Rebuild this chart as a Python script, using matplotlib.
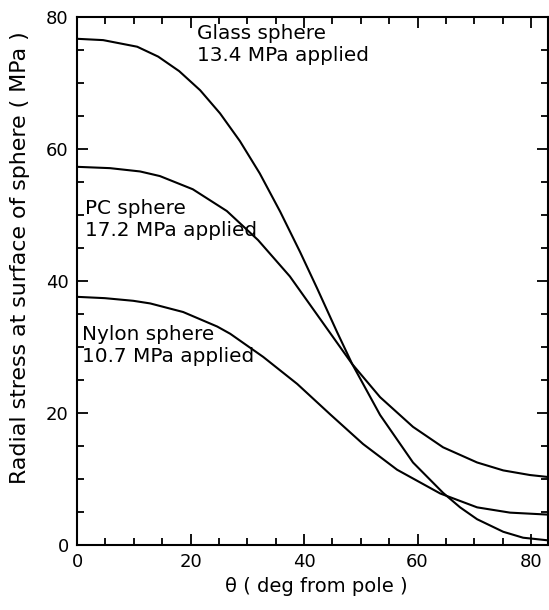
import numpy as np
import matplotlib
matplotlib.use("Agg")
import matplotlib.pyplot as plt
from matplotlib.ticker import MultipleLocator

plt.rcParams['font.family'] = ['DejaVu Sans']

glass_theta = [0.0, 4.6, 10.6, 14.3, 18.0, 21.7, 25.2, 28.7, 32.2, 35.8, 39.3,
               42.3, 45.8, 48.5, 53.4, 59.2, 64.5, 67.5, 70.5, 75.1, 78.6, 83.0]
glass = [76.7, 76.5, 75.5, 74.0, 71.8, 68.9, 65.4, 61.2, 56.3, 50.5, 44.4,
         38.9, 32.3, 27.4, 19.7, 12.5, 7.9, 5.7, 3.9, 2.0, 1.1, 0.7]

pc_theta = [0.0, 5.8, 11.1, 14.6, 20.4, 26.4, 31.9, 37.5, 42.3, 48.5, 53.4,
            59.2, 64.5, 70.5, 75.1, 79.8, 83.0]
pc = [57.3, 57.1, 56.6, 55.9, 53.9, 50.6, 46.2, 40.7, 34.9, 27.4, 22.4,
      17.9, 14.8, 12.5, 11.3, 10.6, 10.3]

nylon_theta = [0.0, 4.9, 9.9, 12.9, 18.7, 24.7, 27.0, 32.8, 38.8, 44.6, 50.4,
               56.4, 64.0, 70.5, 76.3, 83.0]
nylon = [37.6, 37.4, 37.0, 36.6, 35.3, 33.1, 32.0, 28.5, 24.4, 19.8, 15.3,
         11.4, 7.8, 5.7, 4.9, 4.6]

labels = ["Glass sphere\n13.4 MPa applied",
          "PC sphere\n17.2 MPa applied",
          "Nylon sphere\n10.7 MPa applied"]
label_pos = [(21.1, 79.0), (1.4, 52.5), (0.9, 33.3)]

fig = plt.figure(figsize=(5.49, 6.10), dpi=100)
ax = fig.add_axes([0.1403, 0.1066, 0.8580, 0.8655])

for x, y in ((glass_theta, glass), (pc_theta, pc), (nylon_theta, nylon)):
    ax.plot(x, y, color='black', lw=1.5, solid_joinstyle='round')

for txt, (x, y) in zip(labels, label_pos):
    ax.text(x, y, txt, fontsize=14.4, va='top', ha='left', linespacing=1.2)

ax.set_xlim(0, 83)
ax.set_ylim(0, 80)
ax.set_xticks([0, 20, 40, 60, 80])
ax.set_yticks([0, 20, 40, 60, 80])
ax.xaxis.set_minor_locator(MultipleLocator(5))
ax.yaxis.set_minor_locator(MultipleLocator(5))
ax.tick_params(which='both', direction='in', top=True, right=True,
               labelsize=13, width=1.3, pad=6)
ax.tick_params(which='major', length=8)
ax.tick_params(which='minor', length=5)
for s in ax.spines.values():
    s.set_linewidth(1.5)

ax.set_xlabel("\u03b8 ( deg from pole )", fontsize=14, va='top')
ax.xaxis.set_label_coords(0.507, -0.060)
ax.set_ylabel("Radial stress at surface of sphere ( MPa )", fontsize=15.9)
ax.yaxis.set_label_coords(-0.100, 0.545)

fig.savefig("out.png", dpi=100)
